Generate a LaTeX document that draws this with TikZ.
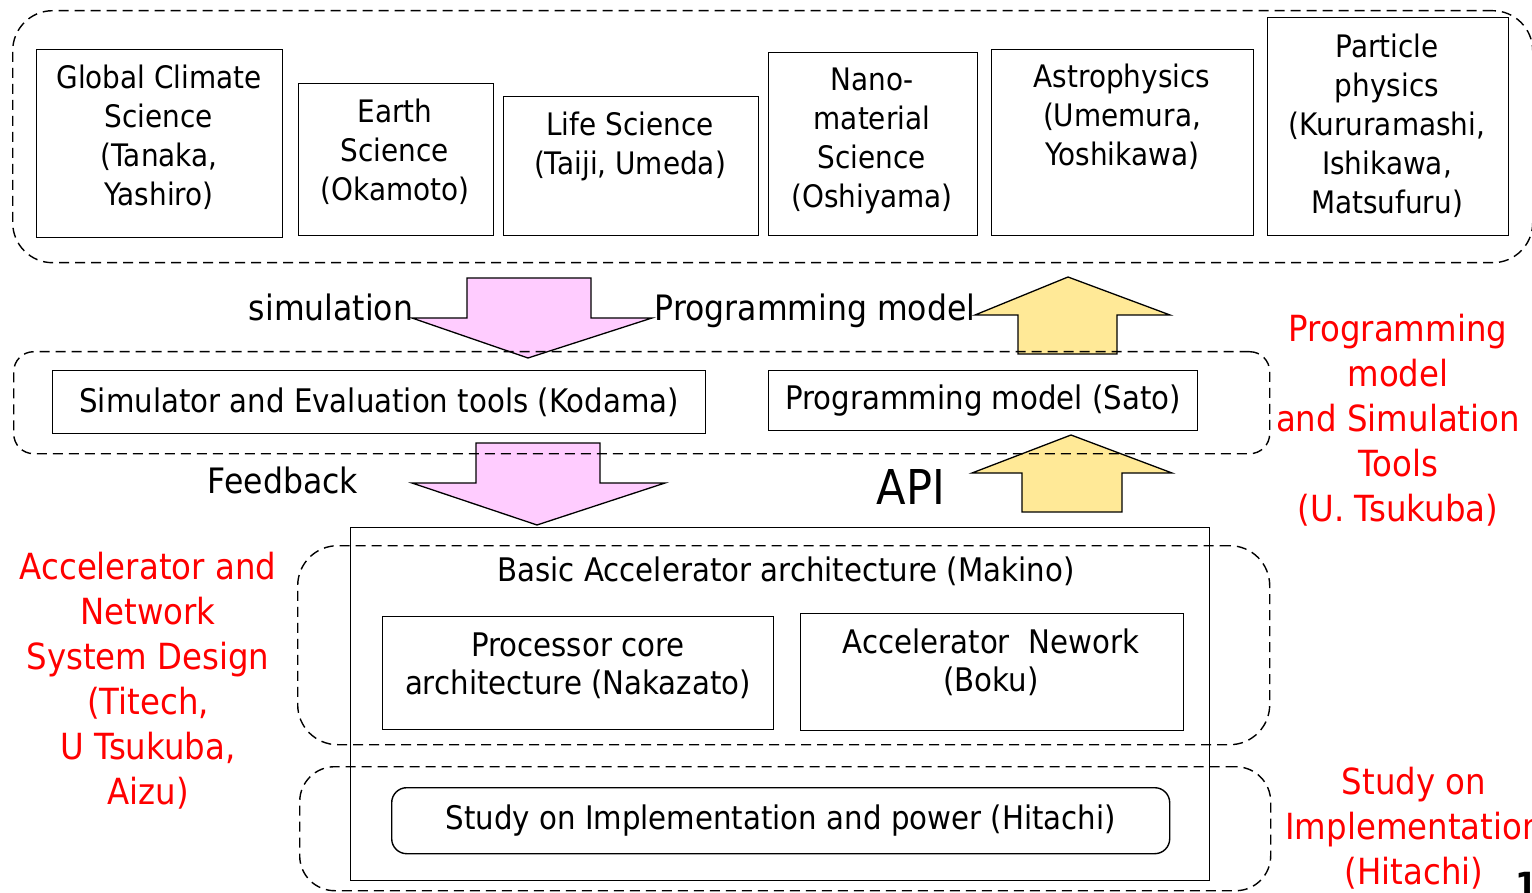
\documentclass[tikz,border=0pt]{standalone}
\usepackage{fontspec}
\setmainfont{DejaVu Sans}[FakeStretch=0.9]
\definecolor{pinkfill}{HTML}{FFCCFF}
\definecolor{yellowfill}{HTML}{FFE997}
\definecolor{redtext}{HTML}{FF0000}
\begin{document}
\begin{tikzpicture}[x=1pt,y=-1pt,
  box/.style={draw, line width=1.4pt, inner sep=0pt, anchor=north west},
  dbox/.style={draw, line width=1.4pt, dash pattern=on 10pt off 6pt, inner sep=0pt, anchor=north west},
  txt/.style={align=center, font=\fontsize{31}{39}\selectfont, inner sep=0pt},
  txtb/.style={align=center, font=\fontsize{32.5}{38}\selectfont, inner sep=0pt},
  lbl/.style={font=\fontsize{35}{42}\selectfont, inner sep=0pt},
  redlbl/.style={align=center, text=redtext, font=\fontsize{36}{45}\selectfont, inner sep=0pt},
  pinkarrow/.style={draw, line width=1.3pt, fill=pinkfill, line join=miter},
  yellowarrow/.style={draw, line width=1.3pt, fill=yellowfill, line join=miter}
]
\useasboundingbox (0,0) rectangle (1532,893);
\clip (0,0) rectangle (1532,893);

% top group
\node[dbox, rounded corners=40pt, minimum width=1520pt, minimum height=252pt] (topgroup) at (12,10) {};
\node[box, minimum width=246pt, minimum height=188pt] (b1) at (36,49) {};
\node[box, minimum width=195pt, minimum height=152pt] (b2) at (298,83) {};
\node[box, minimum width=255pt, minimum height=139pt] (b3) at (503,96) {};
\node[box, minimum width=209pt, minimum height=183pt] (b4) at (768,52) {};
\node[box, minimum width=262pt, minimum height=186pt] (b5) at (991,49) {};
\node[box, minimum width=241pt, minimum height=218pt] (b6) at (1267,17) {};
\node[txt] (t1) at (159,137) {Global Climate\\Science\\(Tanaka,\\Yashiro)};
\node[txt] (t2) at (395,152) {Earth\\Science\\(Okamoto)};
\node[txt] (t3) at (630,146) {Life Science\\(Taiji, Umeda)};
\node[txt] (t4) at (872,141) {Nano-\\material\\Science\\(Oshiyama)};
\node[txt] (t5) at (1122,117) {Astrophysics\\(Umemura,\\Yoshikawa)};
\node[txt] (t6) at (1387,126) {Particle\\physics\\(Kururamashi,\\Ishikawa,\\Matsufuru)};

% block arrows
\draw[pinkarrow] (467,278) -- (591,278) -- (591,318) -- (652,318) -- (528,358) -- (412,318) -- (467,318) -- cycle;
\draw[yellowarrow] (1068,277) -- (1170,315) -- (1117,315) -- (1117,354) -- (1018,354) -- (1018,315) -- (975,315) -- cycle;
\draw[pinkarrow] (476,443) -- (600,443) -- (600,483) -- (665,483) -- (537,525) -- (412,483) -- (476,483) -- cycle;
\draw[yellowarrow] (1071,435) -- (1172,473) -- (1122,473) -- (1122,512) -- (1022,512) -- (1022,473) -- (972,473) -- cycle;

% middle group
\node[dbox, rounded corners=20pt, minimum width=1256pt, minimum height=102pt] (midgroup) at (13,351) {};
\node[box, minimum width=653pt, minimum height=63pt] (sim) at (52,370) {};
\node[txtb] at (sim.center) {Simulator and Evaluation tools (Kodama)};
\node[box, minimum width=429pt, minimum height=60pt] (pm) at (768,370) {};
\node[txtb] at (pm.center) {Programming model (Sato)};

% labels
\node[lbl] (simlbl) at (331,307) {simulation};
\node[lbl] (pmlbl) at (815,311) {Programming model};
\node[lbl] (fblbl) at (283,480) {Feedback};
\node[font=\fontsize{48}{52}\selectfont, inner sep=0pt] (api) at (911,487) {API};

% red labels
\node[redlbl] (rright) at (1398,420) {Programming\\model\\and Simulation\\Tools\\(U. Tsukuba)};
\node[redlbl] (rleft) at (148,681) {Accelerator and\\Network\\System Design\\(Titech,\\U Tsukuba,\\Aizu)};
\node[redlbl] (rbottom) at (1414,828) {Study on\\Implementation\\(Hitachi)};

% bottom group
\node[box, minimum width=859pt, minimum height=353pt] (accel) at (350,527) {};
\node[dbox, rounded corners=40pt, minimum width=972pt, minimum height=199pt] (archgroup) at (297,545) {};
\node[txtb] (basic) at (786,571) {Basic Accelerator architecture (Makino)};
\node[box, minimum width=391pt, minimum height=113pt] (proc) at (382,616) {};
\node[txtb] at (578,666) {Processor core\\architecture (Nakazato)};
\node[box, minimum width=383pt, minimum height=117pt] (net) at (800,613) {};
\node[txtb] at (991,662) {Accelerator\ \ Nework\\(Boku)};
\node[dbox, rounded corners=35pt, minimum width=971pt, minimum height=124pt] (implgroup) at (299,766) {};
\node[box, rounded corners=15pt, minimum width=778pt, minimum height=66pt] (impl) at (391,787) {};
\node[txtb] at (impl.center) {Study on Implementation and power (Hitachi)};

% page number
\node[font=\fontsize{36}{40}\selectfont\bfseries, inner sep=0pt, anchor=north west] (pagenum) at (1515,872) {1};
\end{tikzpicture}
\end{document}
